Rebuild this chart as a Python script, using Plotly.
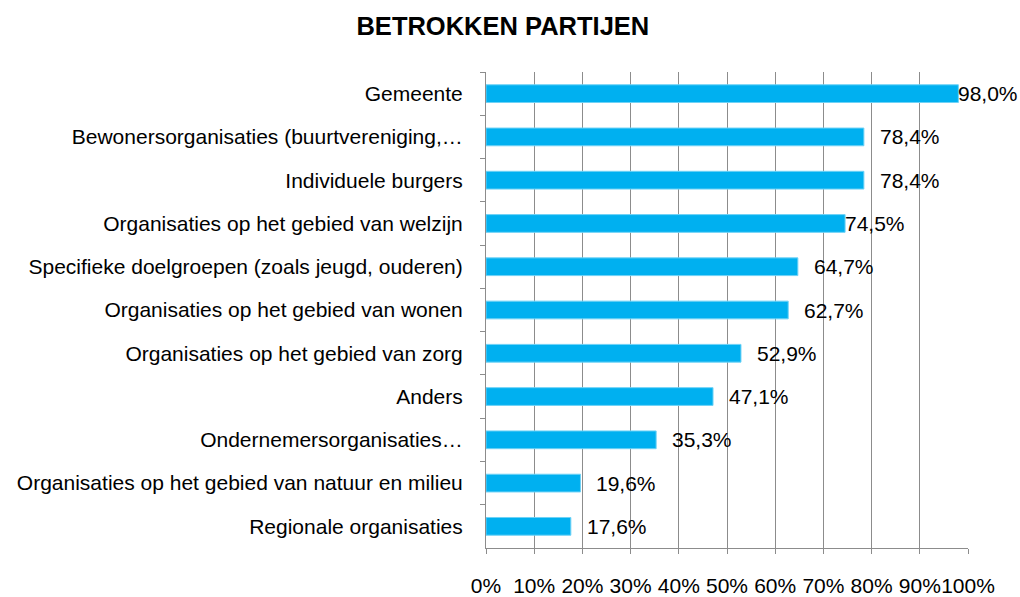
import plotly.graph_objects as go

categories = [
    "Gemeente",
    "Bewonersorganisaties (buurtvereniging,…",
    "Individuele burgers",
    "Organisaties op het gebied van welzijn",
    "Specifieke doelgroepen (zoals jeugd, ouderen)",
    "Organisaties op het gebied van wonen",
    "Organisaties op het gebied van zorg",
    "Anders",
    "Ondernemersorganisaties…",
    "Organisaties op het gebied van natuur en milieu",
    "Regionale organisaties",
]
values = [0.980, 0.784, 0.784, 0.745, 0.647, 0.627, 0.529, 0.471, 0.353, 0.196, 0.176]
label_shift = [-2, 14, 14, -2, 14, 14, 14, 14, 14, 14, 14]
tick_vals = [i / 10 for i in range(11)]
tick_text = [f"{i*10}%" for i in range(11)]

labels = [f"{v*100:.1f}%".replace(".", ",") for v in values]

fig = go.Figure()
fig.add_trace(go.Bar(
    y=categories, x=values, orientation="h", width=0.41,
    marker=dict(color="#00B0F0", line=dict(color="#6FD2F6", width=1)),
    hoverinfo="skip",
))
for c, v, t, s in zip(categories, values, labels, label_shift):
    fig.add_annotation(x=v, y=c, text=t, showarrow=False, xanchor="left",
                       xshift=s, font=dict(size=21, color="#000000"))

fig.update_layout(
    width=1020, height=597,
    margin=dict(l=486, r=52, t=72, b=49, autoexpand=False),
    paper_bgcolor="white", plot_bgcolor="white",
    font=dict(family="Liberation Sans, Arial, sans-serif", size=21, color="#000000"),
    title=dict(text="<b>BETROKKEN PARTIJEN</b>", x=0.493, xanchor="center", y=0.957,
               yanchor="middle", font=dict(size=25.5), automargin=False),
    showlegend=False,
)
fig.update_xaxes(range=[0, 1], tickvals=tick_vals, ticktext=tick_text, tickangle=0,
                 showgrid=True, gridcolor="#8C8C8C", gridwidth=1,
                 showline=True, linecolor="#8C8C8C", linewidth=1,
                 ticks="outside", ticklen=5, tickcolor="#8C8C8C",
                 ticklabelstandoff=14, zeroline=False, fixedrange=True, automargin=False)
fig.update_yaxes(autorange="reversed", type="category",
                 showline=True, linecolor="#8C8C8C", linewidth=1,
                 ticks="outside", ticklen=5, tickcolor="#8C8C8C", tickson="boundaries",
                 showgrid=False, ticklabelstandoff=18, fixedrange=True, automargin=False)

fig.write_html(
    "out.html",
    config={"displayModeBar": False},
    post_script="document.body.style.margin='0';document.body.style.overflow='hidden';",
)
